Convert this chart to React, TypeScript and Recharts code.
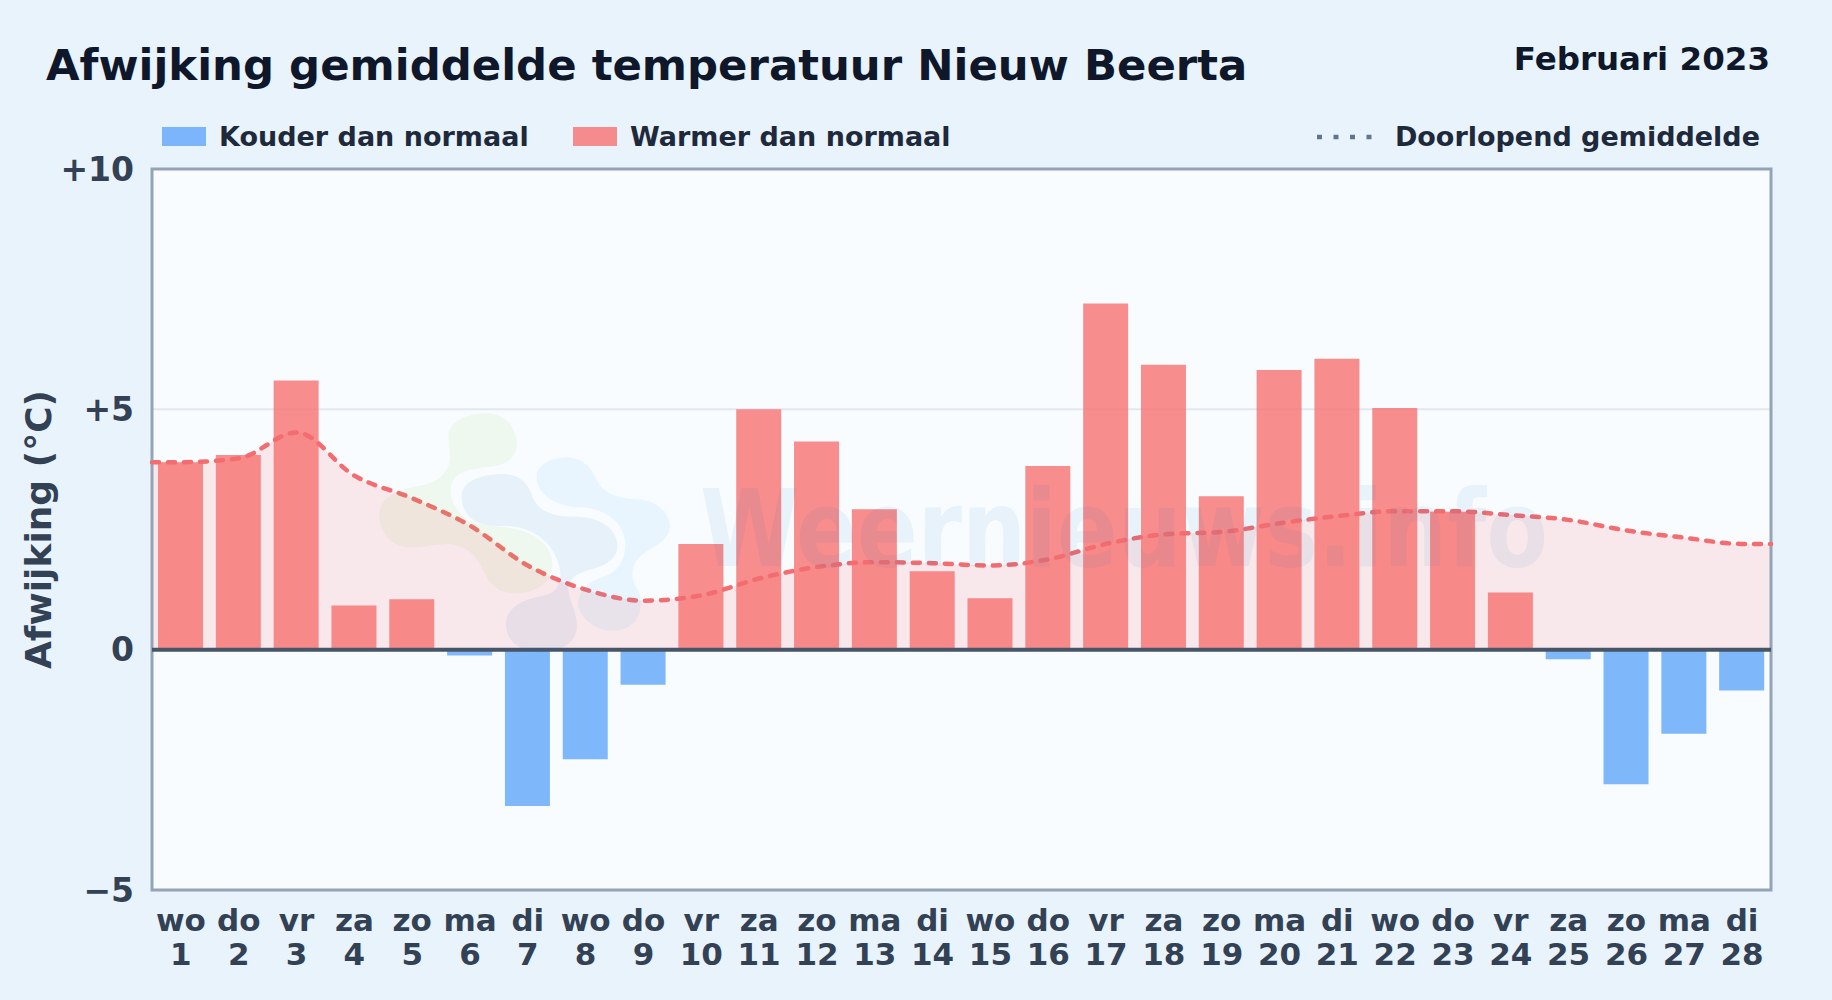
import React from 'react';
import { ComposedChart, Bar, Area, Line, XAxis, YAxis, CartesianGrid, ReferenceLine, ReferenceArea } from 'recharts';

const days = [1, 2, 3, 4, 5, 6, 7, 8, 9, 10, 11, 12, 13, 14, 15, 16, 17, 18, 19, 20, 21, 22, 23, 24, 25, 26, 27, 28];
const weekdays = ['wo', 'do', 'vr', 'za', 'zo', 'ma', 'di', 'wo', 'do', 'vr', 'za', 'zo', 'ma', 'di', 'wo', 'do', 'vr', 'za', 'zo', 'ma', 'di', 'wo', 'do', 'vr', 'za', 'zo', 'ma', 'di'];
const deviation = [3.9, 4.05, 5.6, 0.92, 1.05, -0.12, -3.25, -2.28, -0.73, 2.2, 5.0, 4.33, 2.92, 1.63, 1.07, 3.82, 7.2, 5.93, 3.19, 5.82, 6.05, 5.03, 2.87, 1.19, -0.2, -2.8, -1.75, -0.85];
const runningMean = [3.9, 3.98, 4.52, 3.62, 3.15, 2.58, 1.75, 1.25, 1.02, 1.13, 1.48, 1.72, 1.82, 1.8, 1.75, 1.88, 2.2, 2.4, 2.45, 2.63, 2.78, 2.88, 2.88, 2.8, 2.7, 2.48, 2.33, 2.2];
const yTicks = [-5, 0, 5, 10];
const yTickLabels: Record<number, string> = { [-5]: '\u22125', 0: '0', 5: '+5', 10: '+10' };

const barData = days.map((d, i) => ({
  day: d,
  warm: deviation[i] > 0 ? deviation[i] : null,
  cold: deviation[i] < 0 ? deviation[i] : null,
}));

// the mean runs on to the plot edges, so it has its own numeric axis
const meanData = [
  { x: 0.5, mean: runningMean[0] },
  ...days.map((d, i) => ({ x: d, mean: runningMean[i] })),
  { x: 28.5, mean: runningMean[27] },
];

const FONT = '"DejaVu Sans", sans-serif';
const TICK_COLOR = '#334155';
const WARM = '#f87171';
const COLD = '#60a5fa';

const DayTick = (props: any) => {
  const { x, payload } = props;
  return (
    <text textAnchor="middle" fontFamily={FONT} fontWeight="bold" fontSize={31} fill={TICK_COLOR}>
      <tspan x={x} y={931}>{weekdays[payload.value - 1]}</tspan>
      <tspan x={x} y={965}>{payload.value}</tspan>
    </text>
  );
};

// faint site logo + name, lies over the bars
const Watermark = () => (
  <svg width={1832} height={1000} style={{ position: 'absolute', left: 0, top: 0, pointerEvents: 'none' }}>
    <g transform="translate(360 400) scale(0.3333)">
      <path fill="#84cc16" fillOpacity={0.07} d="M265,105 C270,60 330,38 385,40 C440,42 472,90 470,135 C468,175 440,195 395,200 C340,205 290,210 275,250 C265,290 280,330 330,365 C380,385 480,370 540,420 C590,460 590,530 540,560 C490,590 420,590 385,540 C360,490 340,440 270,432 C220,430 190,445 140,442 C90,438 55,390 58,340 C62,290 120,265 190,255 C240,245 270,210 270,170 Z" />
      <path fill="#2a78c0" fillOpacity={0.08} d="M305,285 C310,240 370,222 430,222 C480,224 505,250 515,285 C530,330 570,350 640,350 C710,348 770,380 772,435 C772,490 720,500 670,515 C640,525 625,545 625,570 C630,610 655,640 650,690 C640,745 570,765 510,755 C460,740 435,710 438,665 C445,615 500,595 560,585 C600,570 610,535 595,490 C575,420 510,380 440,378 C400,378 370,380 340,360 C315,340 303,315 305,285 Z" />
      <path fill="#38a5f8" fillOpacity={0.08} d="M530,225 C535,190 580,172 625,172 C670,175 695,205 710,240 C730,280 770,295 830,298 C890,300 930,340 930,380 C925,430 870,440 840,470 C810,500 810,540 835,570 C850,610 845,670 790,688 C730,705 670,670 655,620 C650,580 680,545 730,530 C780,515 800,470 795,420 C785,360 730,325 660,322 C590,322 525,280 530,225 Z" />
    </g>
    <text x={700} y={566} fontFamily={FONT} fontWeight="bold" fontSize={107} fill="#1e6fb8" fillOpacity={0.07} textLength={848} lengthAdjust="spacingAndGlyphs">Weernieuws.info</text>
  </svg>
);

const absText = (left: number, top: number, size: number, color: string): React.CSSProperties => ({
  position: 'absolute', left, top, fontFamily: FONT, fontWeight: 'bold', fontSize: size, color, lineHeight: 1, whiteSpace: 'nowrap',
});

const swatch = (left: number, color: string): React.CSSProperties => ({
  position: 'absolute', left, top: 127, width: 44, height: 19, background: color, opacity: 0.8,
});

export default function App() {
  return (
    <div style={{ position: 'absolute', left: 0, top: 0, width: 1832, height: 1000, background: '#e8f3fc', overflow: 'hidden' }}>
      <ComposedChart width={1832} height={1000} data={barData} barSize={45} margin={{ top: 169, right: 61, left: 0, bottom: 0 }}>
        <CartesianGrid vertical={false} horizontalValues={[5]} stroke="#e2e8f0" strokeWidth={2} fill="#f8fcff" fillOpacity={1} />
        <XAxis dataKey="day" interval={0} height={110} tick={<DayTick />} tickLine={false} axisLine={false} />
        <XAxis xAxisId="edge" dataKey="x" type="number" domain={[0.5, 28.5]} hide />
        <YAxis
          type="number"
          domain={[-5, 10]}
          ticks={yTicks}
          width={152}
          tickLine={false}
          axisLine={false}
          tickMargin={12}
          tickFormatter={(v: number) => yTickLabels[v]}
          tick={{ fontFamily: FONT, fontWeight: 'bold', fontSize: 33, fill: TICK_COLOR }}
          label={{ value: 'Afwijking (\u00b0C)', angle: -90, position: 'insideLeft', offset: 38, style: { fontFamily: FONT, fontWeight: 'bold', fontSize: 36, fill: TICK_COLOR, textAnchor: 'middle' } }}
        />
        <Area data={meanData} xAxisId="edge" dataKey="mean" type="monotone" stroke="none" fill={WARM} fillOpacity={0.14} dot={false} activeDot={false} isAnimationActive={false} />
        <Bar dataKey="warm" stackId="dev" barSize={45} fill={WARM} fillOpacity={0.8} isAnimationActive={false} />
        <Bar dataKey="cold" stackId="dev" barSize={45} fill={COLD} fillOpacity={0.8} isAnimationActive={false} />
        <Line data={meanData} xAxisId="edge" dataKey="mean" type="monotone" stroke="#f26c70" strokeWidth={4.5} strokeDasharray="7 9" strokeLinecap="round" dot={false} activeDot={false} isAnimationActive={false} />
        <ReferenceLine y={0} stroke="#475569" strokeWidth={4} />
        <ReferenceArea xAxisId="edge" x1={0.5} x2={28.5} y1={-5} y2={10} fill="none" stroke="#94a3b8" strokeWidth={3} />
      </ComposedChart>
      <Watermark />

      <div style={absText(46, 44, 43.4, '#0f172a')}>Afwijking gemiddelde temperatuur Nieuw Beerta</div>
      <div style={{ ...absText(0, 43, 32.5, '#0f172a'), left: 'auto', right: 62 }}>Februari 2023</div>

      <div style={swatch(162, COLD)} />
      <div style={absText(219, 123, 27, '#1e293b')}>Kouder dan normaal</div>
      <div style={swatch(573, WARM)} />
      <div style={absText(630, 123, 27, '#1e293b')}>Warmer dan normaal</div>
      <svg style={{ position: 'absolute', left: 1316, top: 130 }} width={60} height={14}>
        <line x1={1} y1={7} x2={58} y2={7} stroke="#64748b" strokeWidth={4.5} strokeDasharray="5 11.5" />
      </svg>
      <div style={{ ...absText(0, 123, 27, '#1e293b'), left: 'auto', right: 72 }}>Doorlopend gemiddelde</div>
    </div>
  );
}
